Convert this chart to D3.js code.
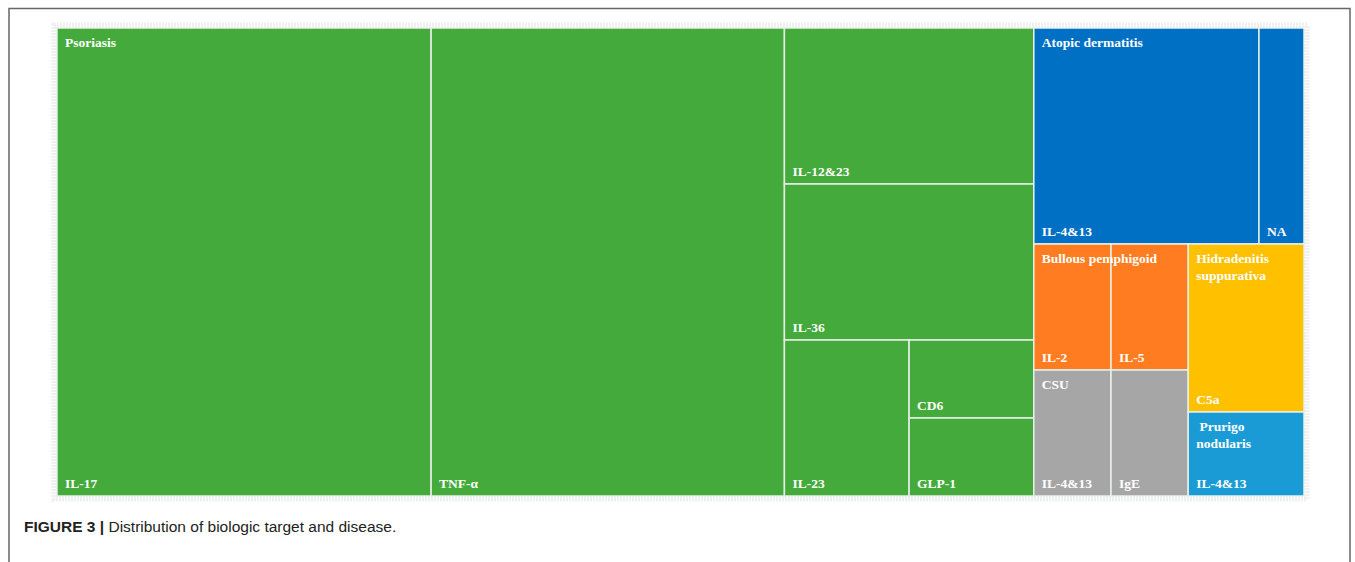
<!DOCTYPE html>
<html><head><meta charset="utf-8">
<script src="https://cdn.jsdelivr.net/npm/d3@7"></script>
<style>body{margin:0;background:#fff;} svg{display:block;}</style>
</head><body>
<svg id="chart" width="1355" height="562"></svg>
<script>
// Data
const diseases = ["Psoriasis", "Atopic dermatitis", "Bullous pemphigoid", "CSU", "Hidradenitis suppurativa", "Prurigo nodularis"];
const diseaseColors = ["#43aa3b", "#0070c5", "#ff7c20", "#a6a6a6", "#ffc000", "#1b9bd6"];
const targets = [
  ["IL-17", "TNF-α", "IL-12&23", "IL-36", "IL-23", "CD6", "GLP-1"],
  ["IL-4&13", "NA"],
  ["IL-2", "IL-5"],
  ["IL-4&13", "IgE"],
  ["C5a"],
  ["IL-4&13"]
];
const counts = [
  [18, 17, 4, 4, 2, 1, 1],
  [5, 1],
  [1, 1],
  [1, 1],
  [2],
  [1]
];
const diseaseLabelLines = [["Psoriasis"], ["Atopic dermatitis"], ["Bullous pemphigoid"], ["CSU"], ["Hidradenitis", "suppurativa"], [" Prurigo", "nodularis"]];

const svg = d3.select("#chart");

// outer frame
svg.append("rect").attr("x", 9).attr("y", 8.5).attr("width", 1341).attr("height", 600)
  .attr("fill", "none").attr("stroke", "#666").attr("stroke-width", 1.5);

const X0 = 57, Y0 = 28, X1 = 1304, Y1 = 496;

// hatched plot border
svg.append("rect").attr("x", X0 - 3).attr("y", Y0 - 3).attr("width", X1 - X0 + 6).attr("height", Y1 - Y0 + 6)
  .attr("fill", "none").attr("stroke", "#f0f0f0").attr("stroke-width", 5).attr("stroke-dasharray", "2,1");

const data = {
  name: "root",
  children: diseases.map((d, i) => ({
    name: d, idx: i,
    children: targets[i].map((t, j) => ({ name: t, value: counts[i][j], idx: i }))
  }))
};

const root = d3.hierarchy(data).sum(d => d.value || 0).sort((a, b) => b.value - a.value);
d3.treemap().tile(d3.treemapSquarify.ratio(1)).size([X1 - X0, Y1 - Y0]).round(false)(root);

const g = svg.append("g").attr("transform", `translate(${X0},${Y0})`);

const leaves = root.leaves();
g.selectAll("rect.leaf").data(leaves).join("rect").attr("class", "leaf")
  .attr("x", d => d.x0).attr("y", d => d.y0)
  .attr("width", d => d.x1 - d.x0).attr("height", d => d.y1 - d.y0)
  .attr("fill", d => diseaseColors[d.data.idx])
  .attr("stroke", "#e8efe8").attr("stroke-width", 1.5);

const font = "'Liberation Serif', 'Times New Roman', serif";

g.selectAll("text.leaf").data(leaves).join("text").attr("class", "leaf")
  .attr("x", d => d.x0 + 8).attr("y", d => d.y1 - 8)
  .attr("fill", "#fff").attr("font-family", font).attr("font-weight", "bold").attr("font-size", 13.5)
  .text(d => d.data.name);

const groups = root.children;
groups.forEach(gr => {
  const lines = diseaseLabelLines[gr.data.idx];
  const t = g.append("text").attr("fill", "#fff").attr("font-family", font)
    .attr("font-weight", "bold").attr("font-size", 13.5).attr("xml:space", "preserve");
  lines.forEach((l, k) => {
    t.append("tspan").attr("x", gr.x0 + 8).attr("y", gr.y0 + 19 + k * 17).text(l);
  });
});

// caption
const cap = svg.append("text").attr("x", 24).attr("y", 532)
  .attr("font-family", "'Liberation Sans', Arial, sans-serif").attr("font-size", 15.5).attr("fill", "#222");
cap.append("tspan").attr("font-weight", "bold").text("FIGURE 3 | ");
cap.append("tspan").text("Distribution of biologic target and disease.");
</script>
</body></html>
